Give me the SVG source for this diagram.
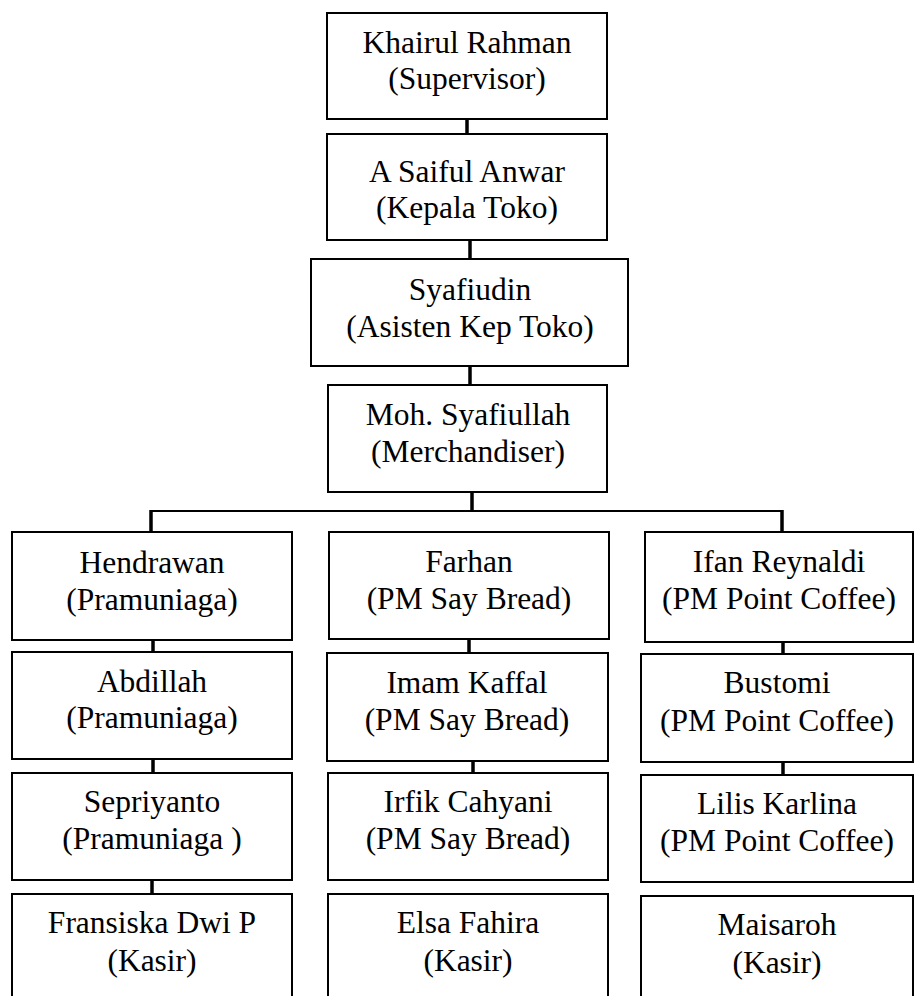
<svg xmlns="http://www.w3.org/2000/svg" width="915" height="996" viewBox="0 0 915 996">
<style>
.box{fill:#fff;stroke:#000;stroke-width:2}
.t{font-family:'Liberation Serif',Tinos,'Times New Roman','DejaVu Serif',serif;font-size:31.5px;fill:#000;text-anchor:middle}
.v{stroke:#000;stroke-width:3.5;fill:none}
.h{stroke:#000;stroke-width:2;fill:none}
</style>
<rect width="915" height="996" fill="#fff"/>
<g id="connectors">
<line class="v" x1="467" y1="119" x2="467" y2="134"/>
<line class="v" x1="470" y1="240" x2="470" y2="259"/>
<line class="v" x1="470" y1="366" x2="470" y2="385"/>
<line class="v" x1="472" y1="492" x2="472" y2="511"/>
<line class="h" x1="151" y1="511" x2="783" y2="511"/>
<line class="v" x1="151" y1="510" x2="151" y2="532"/>
<line class="v" x1="782" y1="510" x2="782" y2="532"/>
<line class="v" x1="153" y1="640" x2="153" y2="652"/>
<line class="v" x1="469" y1="639" x2="469" y2="653"/>
<line class="v" x1="783" y1="642" x2="783" y2="654"/>
<line class="v" x1="153" y1="759" x2="153" y2="773"/>
<line class="v" x1="473" y1="761" x2="473" y2="773"/>
<line class="v" x1="783" y1="762" x2="783" y2="775"/>
<line class="v" x1="152" y1="880" x2="152" y2="894"/>
</g>
<g id="n-khairul"><rect class="box" x="327" y="13" width="280" height="106"/><text class="t" x="467" y="53">Khairul Rahman</text><text class="t" x="467" y="89">(Supervisor)</text></g>
<g id="n-saiful"><rect class="box" x="327" y="134" width="280" height="106"/><text class="t" x="467" y="182">A Saiful Anwar</text><text class="t" x="467" y="218">(Kepala Toko)</text></g>
<g id="n-syafiudin"><rect class="box" x="311" y="259" width="317" height="107"/><text class="t" x="470" y="300">Syafiudin</text><text class="t" x="470" y="337">(Asisten Kep Toko)</text></g>
<g id="n-syafiullah"><rect class="box" x="328" y="385" width="279" height="107"/><text class="t" x="468" y="425">Moh. Syafiullah</text><text class="t" x="468" y="462">(Merchandiser)</text></g>
<g id="n-hendrawan"><rect class="box" x="12" y="532" width="280" height="108"/><text class="t" x="152" y="573">Hendrawan</text><text class="t" x="152" y="610">(Pramuniaga)</text></g>
<g id="n-farhan"><rect class="box" x="329" y="532" width="280" height="107"/><text class="t" x="469" y="572">Farhan</text><text class="t" x="469" y="609">(PM Say Bread)</text></g>
<g id="n-ifan"><rect class="box" x="645" y="532" width="268" height="110"/><text class="t" x="779" y="572">Ifan Reynaldi</text><text class="t" x="779" y="609">(PM Point Coffee)</text></g>
<g id="n-abdillah"><rect class="box" x="12" y="652" width="280" height="107"/><text class="t" x="152" y="692">Abdillah</text><text class="t" x="152" y="728">(Pramuniaga)</text></g>
<g id="n-imam"><rect class="box" x="327" y="653" width="281" height="108"/><text class="t" x="467" y="693">Imam Kaffal</text><text class="t" x="467" y="730">(PM Say Bread)</text></g>
<g id="n-bustomi"><rect class="box" x="641" y="654" width="272" height="108"/><text class="t" x="777" y="693">Bustomi</text><text class="t" x="777" y="731">(PM Point Coffee)</text></g>
<g id="n-sepriyanto"><rect class="box" x="12" y="773" width="280" height="107"/><text class="t" x="152" y="812">Sepriyanto</text><text class="t" x="152" y="849">(Pramuniaga )</text></g>
<g id="n-irfik"><rect class="box" x="328" y="773" width="280" height="107"/><text class="t" x="468" y="812">Irfik Cahyani</text><text class="t" x="468" y="849">(PM Say Bread)</text></g>
<g id="n-lilis"><rect class="box" x="641" y="775" width="272" height="107"/><text class="t" x="777" y="814">Lilis Karlina</text><text class="t" x="777" y="851">(PM Point Coffee)</text></g>
<g id="n-fransiska"><rect class="box" x="12" y="894" width="280" height="110"/><text class="t" x="152" y="933">Fransiska Dwi P</text><text class="t" x="152" y="971">(Kasir)</text></g>
<g id="n-elsa"><rect class="box" x="328" y="894" width="280" height="110"/><text class="t" x="468" y="933">Elsa Fahira</text><text class="t" x="468" y="971">(Kasir)</text></g>
<g id="n-maisaroh"><rect class="box" x="641" y="896" width="272" height="110"/><text class="t" x="777" y="935">Maisaroh</text><text class="t" x="777" y="973">(Kasir)</text></g>
</svg>
